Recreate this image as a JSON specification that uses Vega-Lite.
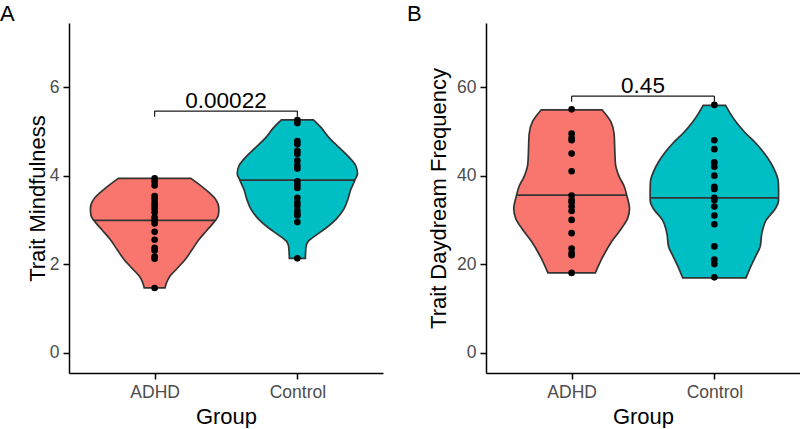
{
  "$schema": "https://vega.github.io/schema/vega-lite/v6.json",
  "padding": {"top": 3, "left": 0, "right": 0, "bottom": 0},
  "autosize": {"type": "pad"},
  "bounds": "flush",
  "spacing": 103,
  "background": "white",
  "config": {
    "view": {"stroke": null},
    "font": "Liberation Sans",
    "title": {"fontSize": 22, "fontWeight": "normal", "color": "black", "anchor": "start", "frame": "group", "font": "Liberation Sans", "baseline": "top"},
    "axis": {
      "grid": false,
      "domainColor": "black",
      "domainWidth": 1.5,
      "tickColor": "black",
      "tickWidth": 1.5,
      "tickSize": 6,
      "labelColor": "#4D4D4D",
      "labelFontSize": 17.5,
      "labelFont": "Liberation Sans",
      "labelPadding": 4,
      "titleFont": "Liberation Sans",
      "titleFontSize": 22,
      "titleFontWeight": "normal",
      "titleColor": "black"
    },
    "axisX": {"labelAngle": 0, "titlePadding": 6},
    "axisY": {"labelAngle": 0},
    "area": {"stroke": "#333333", "strokeWidth": 1.7, "fillOpacity": 1, "interpolate": "monotone", "orient": "horizontal"},
    "bar": {"fill": "#333333", "size": 1.8, "orient": "horizontal"},
    "rule": {"color": "#1a1a1a", "strokeWidth": 1.2},
    "circle": {"color": "black", "size": 44, "opacity": 1}
  },
  "datasets": {
    "mind_scores": [
      {"Group": "ADHD", "Score": 3.94}, {"Group": "ADHD", "Score": 3.87}, {"Group": "ADHD", "Score": 3.78},
      {"Group": "ADHD", "Score": 3.54}, {"Group": "ADHD", "Score": 3.47}, {"Group": "ADHD", "Score": 3.39},
      {"Group": "ADHD", "Score": 3.32}, {"Group": "ADHD", "Score": 3.25}, {"Group": "ADHD", "Score": 3.17},
      {"Group": "ADHD", "Score": 3.06}, {"Group": "ADHD", "Score": 2.99}, {"Group": "ADHD", "Score": 2.92},
      {"Group": "ADHD", "Score": 2.73}, {"Group": "ADHD", "Score": 2.55}, {"Group": "ADHD", "Score": 2.37},
      {"Group": "ADHD", "Score": 2.31}, {"Group": "ADHD", "Score": 2.17}, {"Group": "ADHD", "Score": 2.12},
      {"Group": "ADHD", "Score": 1.46},
      {"Group": "Control", "Score": 5.26}, {"Group": "Control", "Score": 5.19}, {"Group": "Control", "Score": 4.78},
      {"Group": "Control", "Score": 4.71}, {"Group": "Control", "Score": 4.56}, {"Group": "Control", "Score": 4.49},
      {"Group": "Control", "Score": 4.34}, {"Group": "Control", "Score": 4.23}, {"Group": "Control", "Score": 4.16},
      {"Group": "Control", "Score": 3.87}, {"Group": "Control", "Score": 3.79}, {"Group": "Control", "Score": 3.72},
      {"Group": "Control", "Score": 3.5}, {"Group": "Control", "Score": 3.39}, {"Group": "Control", "Score": 3.32},
      {"Group": "Control", "Score": 3.21}, {"Group": "Control", "Score": 3.14}, {"Group": "Control", "Score": 3.1},
      {"Group": "Control", "Score": 2.95}, {"Group": "Control", "Score": 2.13}
    ],
    "mind_violin": [
      {"Group": "ADHD", "Score": 3.94, "Width": 0.509}, {"Group": "ADHD", "Score": 3.72, "Width": 0.689},
      {"Group": "ADHD", "Score": 3.47, "Width": 0.853}, {"Group": "ADHD", "Score": 3.26, "Width": 0.9},
      {"Group": "ADHD", "Score": 3.1, "Width": 0.892}, {"Group": "ADHD", "Score": 2.99, "Width": 0.852},
      {"Group": "ADHD", "Score": 2.77, "Width": 0.736}, {"Group": "ADHD", "Score": 2.55, "Width": 0.619},
      {"Group": "ADHD", "Score": 2.33, "Width": 0.526}, {"Group": "ADHD", "Score": 2.11, "Width": 0.432},
      {"Group": "ADHD", "Score": 1.89, "Width": 0.308}, {"Group": "ADHD", "Score": 1.74, "Width": 0.222},
      {"Group": "ADHD", "Score": 1.6, "Width": 0.171}, {"Group": "ADHD", "Score": 1.46, "Width": 0.145},
      {"Group": "Control", "Score": 5.26, "Width": 0.224}, {"Group": "Control", "Score": 5.08, "Width": 0.336},
      {"Group": "Control", "Score": 4.86, "Width": 0.443}, {"Group": "Control", "Score": 4.64, "Width": 0.583},
      {"Group": "Control", "Score": 4.42, "Width": 0.723}, {"Group": "Control", "Score": 4.23, "Width": 0.817},
      {"Group": "Control", "Score": 4.05, "Width": 0.843}, {"Group": "Control", "Score": 3.9, "Width": 0.806},
      {"Group": "Control", "Score": 3.68, "Width": 0.747}, {"Group": "Control", "Score": 3.47, "Width": 0.709},
      {"Group": "Control", "Score": 3.25, "Width": 0.653}, {"Group": "Control", "Score": 3.03, "Width": 0.551},
      {"Group": "Control", "Score": 2.81, "Width": 0.397}, {"Group": "Control", "Score": 2.62, "Width": 0.233},
      {"Group": "Control", "Score": 2.51, "Width": 0.149}, {"Group": "Control", "Score": 2.37, "Width": 0.12},
      {"Group": "Control", "Score": 2.13, "Width": 0.112}
    ],
    "mind_median": [
      {"Group": "ADHD", "Score": 2.99, "Width": 0.852},
      {"Group": "Control", "Score": 3.9, "Width": 0.806}
    ],
    "mind_test": [{"Group1": "ADHD", "Group2": "Control", "p": "0.00022"}],
    "day_scores": [
      {"Group": "ADHD", "Score": 55}, {"Group": "ADHD", "Score": 49.5}, {"Group": "ADHD", "Score": 48.5},
      {"Group": "ADHD", "Score": 48}, {"Group": "ADHD", "Score": 45}, {"Group": "ADHD", "Score": 41},
      {"Group": "ADHD", "Score": 35.5}, {"Group": "ADHD", "Score": 34.5}, {"Group": "ADHD", "Score": 34},
      {"Group": "ADHD", "Score": 33}, {"Group": "ADHD", "Score": 32}, {"Group": "ADHD", "Score": 30},
      {"Group": "ADHD", "Score": 27}, {"Group": "ADHD", "Score": 23.5}, {"Group": "ADHD", "Score": 22.5},
      {"Group": "ADHD", "Score": 22}, {"Group": "ADHD", "Score": 18},
      {"Group": "Control", "Score": 56}, {"Group": "Control", "Score": 48}, {"Group": "Control", "Score": 46},
      {"Group": "Control", "Score": 43}, {"Group": "Control", "Score": 42}, {"Group": "Control", "Score": 40},
      {"Group": "Control", "Score": 37.5}, {"Group": "Control", "Score": 37}, {"Group": "Control", "Score": 35},
      {"Group": "Control", "Score": 34.5}, {"Group": "Control", "Score": 33}, {"Group": "Control", "Score": 31},
      {"Group": "Control", "Score": 29}, {"Group": "Control", "Score": 24}, {"Group": "Control", "Score": 21},
      {"Group": "Control", "Score": 20}, {"Group": "Control", "Score": 17}
    ],
    "day_violin": [
      {"Group": "ADHD", "Score": 54.9, "Width": 0.425}, {"Group": "ADHD", "Score": 52.2, "Width": 0.549},
      {"Group": "ADHD", "Score": 49.3, "Width": 0.596}, {"Group": "ADHD", "Score": 45.6, "Width": 0.605},
      {"Group": "ADHD", "Score": 42.7, "Width": 0.614}, {"Group": "ADHD", "Score": 39.8, "Width": 0.666},
      {"Group": "ADHD", "Score": 37.6, "Width": 0.736}, {"Group": "ADHD", "Score": 35.4, "Width": 0.775},
      {"Group": "ADHD", "Score": 32.5, "Width": 0.811}, {"Group": "ADHD", "Score": 30.3, "Width": 0.783},
      {"Group": "ADHD", "Score": 28.1, "Width": 0.7}, {"Group": "ADHD", "Score": 25.1, "Width": 0.561},
      {"Group": "ADHD", "Score": 21.5, "Width": 0.432}, {"Group": "ADHD", "Score": 18, "Width": 0.332},
      {"Group": "Control", "Score": 55.9, "Width": 0.157}, {"Group": "Control", "Score": 54.1, "Width": 0.222},
      {"Group": "Control", "Score": 51.9, "Width": 0.315}, {"Group": "Control", "Score": 49.7, "Width": 0.432},
      {"Group": "Control", "Score": 47.5, "Width": 0.572}, {"Group": "Control", "Score": 45.3, "Width": 0.689},
      {"Group": "Control", "Score": 43.1, "Width": 0.783}, {"Group": "Control", "Score": 40.9, "Width": 0.853},
      {"Group": "Control", "Score": 38.7, "Width": 0.895}, {"Group": "Control", "Score": 36.5, "Width": 0.9},
      {"Group": "Control", "Score": 34.3, "Width": 0.899}, {"Group": "Control", "Score": 32.8, "Width": 0.864},
      {"Group": "Control", "Score": 29.9, "Width": 0.724}, {"Group": "Control", "Score": 27, "Width": 0.666},
      {"Group": "Control", "Score": 24, "Width": 0.642}, {"Group": "Control", "Score": 21.8, "Width": 0.579},
      {"Group": "Control", "Score": 19.6, "Width": 0.514}, {"Group": "Control", "Score": 16.9, "Width": 0.444}
    ],
    "day_median": [
      {"Group": "ADHD", "Score": 35.6, "Width": 0.765},
      {"Group": "Control", "Score": 35, "Width": 0.899}
    ],
    "day_test": [{"Group1": "ADHD", "Group2": "Control", "p": "0.45"}]
  },
  "hconcat": [
    {
      "title": {"text": "A", "dx": -69, "offset": -3},
      "width": 314,
      "height": 350,
      "resolve": {"scale": {"x": "independent"}},
      "layer": [
        {
          "data": {"name": "mind_violin"},
          "transform": [{"filter": "datum.Group === 'ADHD'"}],
          "mark": {"type": "area", "fill": "#F8766D"},
          "encoding": {
            "x": {"field": "Width", "type": "quantitative", "stack": "center", "impute": null, "scale": {"domain": [-0.15, 2.05], "nice": false, "zero": false}, "axis": null},
            "y": {"field": "Score", "type": "quantitative", "scale": {"domain": [-0.35, 7.34], "nice": false, "zero": false}, "axis": {"title": "Trait Mindfulness", "values": [0, 2, 4, 6], "titlePadding": 0}}
          }
        },
        {
          "data": {"name": "mind_violin"},
          "transform": [{"filter": "datum.Group === 'Control'"}],
          "mark": {"type": "area", "fill": "#00BFC4"},
          "encoding": {
            "x": {"field": "Width", "type": "quantitative", "stack": "center", "impute": null, "scale": {"domain": [-1.1785, 1.0215], "nice": false, "zero": false}, "axis": null},
            "y": {"field": "Score", "type": "quantitative", "scale": {"domain": [-0.35, 7.34], "nice": false, "zero": false}, "axis": {"title": "Trait Mindfulness", "values": [0, 2, 4, 6], "titlePadding": 0}}
          }
        },
        {
          "data": {"name": "mind_median"},
          "transform": [{"filter": "datum.Group === 'ADHD'"}],
          "mark": {"type": "bar"},
          "encoding": {
            "x": {"field": "Width", "type": "quantitative", "stack": "center", "scale": {"domain": [-0.174, 2.026], "nice": false, "zero": false}, "axis": null},
            "y": {"field": "Score", "type": "quantitative", "scale": {"domain": [-0.35, 7.34], "nice": false, "zero": false}, "axis": {"title": "Trait Mindfulness", "values": [0, 2, 4, 6], "titlePadding": 0}}
          }
        },
        {
          "data": {"name": "mind_median"},
          "transform": [{"filter": "datum.Group === 'Control'"}],
          "mark": {"type": "bar"},
          "encoding": {
            "x": {"field": "Width", "type": "quantitative", "stack": "center", "scale": {"domain": [-1.197, 1.003], "nice": false, "zero": false}, "axis": null},
            "y": {"field": "Score", "type": "quantitative", "scale": {"domain": [-0.35, 7.34], "nice": false, "zero": false}, "axis": {"title": "Trait Mindfulness", "values": [0, 2, 4, 6], "titlePadding": 0}}
          }
        },
        {
          "data": {"name": "mind_scores"},
          "mark": {"type": "circle"},
          "encoding": {
            "x": {"field": "Group", "type": "nominal", "scale": {"type": "point", "padding": 0.6, "domain": ["ADHD", "Control"]}, "axis": {"title": "Group"}},
            "y": {"field": "Score", "type": "quantitative", "scale": {"domain": [-0.35, 7.34], "nice": false, "zero": false}, "axis": {"title": "Trait Mindfulness", "values": [0, 2, 4, 6], "titlePadding": 0}}
          }
        },
        {
          "data": {"name": "mind_test"},
          "mark": {"type": "rule"},
          "encoding": {
            "x": {"field": "Group1", "type": "nominal", "scale": {"type": "point", "padding": 0.6, "domain": ["ADHD", "Control"]}, "axis": null},
            "x2": {"field": "Group2"},
            "y": {"datum": 5.46, "type": "quantitative", "scale": {"domain": [-0.35, 7.34], "nice": false, "zero": false}, "axis": {"title": "Trait Mindfulness", "values": [0, 2, 4, 6], "titlePadding": 0}}
          }
        },
        {
          "data": {"name": "mind_test"},
          "mark": {"type": "rule"},
          "encoding": {
            "x": {"field": "Group1", "type": "nominal", "scale": {"type": "point", "padding": 0.6, "domain": ["ADHD", "Control"]}, "axis": null},
            "y": {"datum": 5.46, "type": "quantitative", "scale": {"domain": [-0.35, 7.34], "nice": false, "zero": false}, "axis": {"title": "Trait Mindfulness", "values": [0, 2, 4, 6], "titlePadding": 0}},
            "y2": {"datum": 5.33}
          }
        },
        {
          "data": {"name": "mind_test"},
          "mark": {"type": "rule"},
          "encoding": {
            "x": {"field": "Group2", "type": "nominal", "scale": {"type": "point", "padding": 0.6, "domain": ["ADHD", "Control"]}, "axis": null},
            "y": {"datum": 5.46, "type": "quantitative", "scale": {"domain": [-0.35, 7.34], "nice": false, "zero": false}, "axis": {"title": "Trait Mindfulness", "values": [0, 2, 4, 6], "titlePadding": 0}},
            "y2": {"datum": 5.33}
          }
        },
        {
          "data": {"name": "mind_test"},
          "mark": {"type": "text", "fontSize": 22.5, "baseline": "alphabetic", "align": "center", "dy": -3, "color": "black"},
          "encoding": {
            "text": {"field": "p"},
            "x": {"datum": 1.5, "type": "quantitative", "scale": {"domain": [0.4, 2.6], "nice": false, "zero": false}, "axis": null},
            "y": {"datum": 5.46, "type": "quantitative", "scale": {"domain": [-0.35, 7.34], "nice": false, "zero": false}, "axis": {"title": "Trait Mindfulness", "values": [0, 2, 4, 6], "titlePadding": 0}}
          }
        }
      ]
    },
    {
      "title": {"text": "B", "dx": -79, "offset": -3},
      "width": 314,
      "height": 350,
      "resolve": {"scale": {"x": "independent"}},
      "layer": [
        {
          "data": {"name": "day_violin"},
          "transform": [{"filter": "datum.Group === 'ADHD'"}],
          "mark": {"type": "area", "fill": "#F8766D"},
          "encoding": {
            "x": {"field": "Width", "type": "quantitative", "stack": "center", "impute": null, "scale": {"domain": [-0.1945, 2.0055], "nice": false, "zero": false}, "axis": null},
            "y": {"field": "Score", "type": "quantitative", "scale": {"domain": [-3.5, 73.4], "nice": false, "zero": false}, "axis": {"title": "Trait Daydream Frequency", "values": [0, 20, 40, 60], "titlePadding": 6}}
          }
        },
        {
          "data": {"name": "day_violin"},
          "transform": [{"filter": "datum.Group === 'Control'"}],
          "mark": {"type": "area", "fill": "#00BFC4"},
          "encoding": {
            "x": {"field": "Width", "type": "quantitative", "stack": "center", "impute": null, "scale": {"domain": [-1.15, 1.05], "nice": false, "zero": false}, "axis": null},
            "y": {"field": "Score", "type": "quantitative", "scale": {"domain": [-3.5, 73.4], "nice": false, "zero": false}, "axis": {"title": "Trait Daydream Frequency", "values": [0, 20, 40, 60], "titlePadding": 6}}
          }
        },
        {
          "data": {"name": "day_median"},
          "transform": [{"filter": "datum.Group === 'ADHD'"}],
          "mark": {"type": "bar"},
          "encoding": {
            "x": {"field": "Width", "type": "quantitative", "stack": "center", "scale": {"domain": [-0.2175, 1.9825], "nice": false, "zero": false}, "axis": null},
            "y": {"field": "Score", "type": "quantitative", "scale": {"domain": [-3.5, 73.4], "nice": false, "zero": false}, "axis": {"title": "Trait Daydream Frequency", "values": [0, 20, 40, 60], "titlePadding": 6}}
          }
        },
        {
          "data": {"name": "day_median"},
          "transform": [{"filter": "datum.Group === 'Control'"}],
          "mark": {"type": "bar"},
          "encoding": {
            "x": {"field": "Width", "type": "quantitative", "stack": "center", "scale": {"domain": [-1.1505, 1.0495], "nice": false, "zero": false}, "axis": null},
            "y": {"field": "Score", "type": "quantitative", "scale": {"domain": [-3.5, 73.4], "nice": false, "zero": false}, "axis": {"title": "Trait Daydream Frequency", "values": [0, 20, 40, 60], "titlePadding": 6}}
          }
        },
        {
          "data": {"name": "day_scores"},
          "mark": {"type": "circle"},
          "encoding": {
            "x": {"field": "Group", "type": "nominal", "scale": {"type": "point", "padding": 0.6, "domain": ["ADHD", "Control"]}, "axis": {"title": "Group"}},
            "y": {"field": "Score", "type": "quantitative", "scale": {"domain": [-3.5, 73.4], "nice": false, "zero": false}, "axis": {"title": "Trait Daydream Frequency", "values": [0, 20, 40, 60], "titlePadding": 6}}
          }
        },
        {
          "data": {"name": "day_test"},
          "mark": {"type": "rule"},
          "encoding": {
            "x": {"field": "Group1", "type": "nominal", "scale": {"type": "point", "padding": 0.6, "domain": ["ADHD", "Control"]}, "axis": null},
            "x2": {"field": "Group2"},
            "y": {"datum": 58, "type": "quantitative", "scale": {"domain": [-3.5, 73.4], "nice": false, "zero": false}, "axis": {"title": "Trait Daydream Frequency", "values": [0, 20, 40, 60], "titlePadding": 6}}
          }
        },
        {
          "data": {"name": "day_test"},
          "mark": {"type": "rule"},
          "encoding": {
            "x": {"field": "Group1", "type": "nominal", "scale": {"type": "point", "padding": 0.6, "domain": ["ADHD", "Control"]}, "axis": null},
            "y": {"datum": 58, "type": "quantitative", "scale": {"domain": [-3.5, 73.4], "nice": false, "zero": false}, "axis": {"title": "Trait Daydream Frequency", "values": [0, 20, 40, 60], "titlePadding": 6}},
            "y2": {"datum": 56.7}
          }
        },
        {
          "data": {"name": "day_test"},
          "mark": {"type": "rule"},
          "encoding": {
            "x": {"field": "Group2", "type": "nominal", "scale": {"type": "point", "padding": 0.6, "domain": ["ADHD", "Control"]}, "axis": null},
            "y": {"datum": 58, "type": "quantitative", "scale": {"domain": [-3.5, 73.4], "nice": false, "zero": false}, "axis": {"title": "Trait Daydream Frequency", "values": [0, 20, 40, 60], "titlePadding": 6}},
            "y2": {"datum": 56.7}
          }
        },
        {
          "data": {"name": "day_test"},
          "mark": {"type": "text", "fontSize": 22.5, "baseline": "alphabetic", "align": "center", "dy": -3, "color": "black"},
          "encoding": {
            "text": {"field": "p"},
            "x": {"datum": 1.5, "type": "quantitative", "scale": {"domain": [0.4, 2.6], "nice": false, "zero": false}, "axis": null},
            "y": {"datum": 58, "type": "quantitative", "scale": {"domain": [-3.5, 73.4], "nice": false, "zero": false}, "axis": {"title": "Trait Daydream Frequency", "values": [0, 20, 40, 60], "titlePadding": 6}}
          }
        }
      ]
    }
  ]
}
